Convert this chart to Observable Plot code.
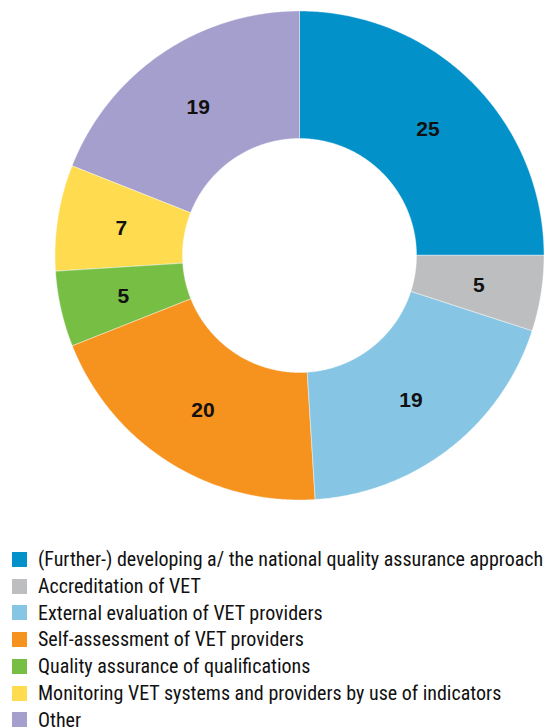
<!DOCTYPE html>
<html>
<head>
<meta charset="utf-8">
<script src="https://cdn.jsdelivr.net/npm/d3@7"></script>
<script src="https://cdn.jsdelivr.net/npm/@observablehq/plot@0.6"></script>
<style>
  html, body { margin: 0; padding: 0; background: #fff; }
  #chart svg { display: block; }
  .legend { position: relative; width: 547px; font-family: "Liberation Sans Narrow", "Arial Narrow", "Roboto Condensed", sans-serif; font-size: 20px; color: #111; overflow: hidden; }
  .row { position: absolute; left: 0; height: 26px; }
  .sw { position: absolute; left: 12px; top: 0; width: 15px; height: 15px; }
  .lb { position: absolute; left: 38px; top: -0.7px; white-space: nowrap; line-height: 16px; }
</style>
</head>
<body>
<div id="chart"></div>
<div class="legend" id="legend"></div>
<script>
const categories = [
  "(Further-) developing a/ the national quality assurance approach",
  "Accreditation of VET",
  "External evaluation of VET providers",
  "Self-assessment of VET providers",
  "Quality assurance of qualifications",
  "Monitoring VET systems and providers by use of indicators",
  "Other"
];
const values = [25, 5, 19, 20, 5, 7, 19];
const colors = ["#0391c9", "#bdbec0", "#86c6e4", "#f6921e", "#77bf44", "#fedb4f", "#a59fce"];

const W = 547, H = 540;
const cx = 299.5, cy = 255.5;
const rOuter = 244.5, rInner = 117;
const rLabel = 181;

const pie = d3.pie().sort(null).value(d => d)(values);

// Arc outline points for each slice (inner/outer edges along the angle)
const arcPts = [];
pie.forEach((p, i) => {
  const n = Math.max(2, Math.ceil((p.endAngle - p.startAngle) / (Math.PI / 360)));
  for (let k = 0; k <= n; k++) {
    const a = p.startAngle + (p.endAngle - p.startAngle) * k / n;
    arcPts.push({
      cat: categories[i],
      x1: rInner * Math.sin(a), y1: rInner * Math.cos(a),
      x2: rOuter * Math.sin(a), y2: rOuter * Math.cos(a)
    });
  }
});
const labels = pie.map((p, i) => {
  const a = (p.startAngle + p.endAngle) / 2;
  return { text: String(values[i]), x: rLabel * Math.sin(a), y: rLabel * Math.cos(a) };
});

const chart = Plot.plot({
  width: W, height: H,
  margin: 0,
  x: { domain: [-cx, W - cx], axis: null },
  y: { domain: [-(H - cy), cy], axis: null },
  color: { domain: categories, range: colors },
  style: { background: "white" },
  marks: [
    Plot.area(arcPts, { x1: "x1", y1: "y1", x2: "x2", y2: "y2", z: "cat", fill: "cat", stroke: "white", strokeWidth: 0.4, curve: "linear" }),
    Plot.text(labels, { x: "x", y: "y", dy: 1, text: "text", fontWeight: "bold", fontSize: 21, fill: "#111",
      fontFamily: "'Liberation Sans Narrow', 'Arial Narrow', sans-serif" })
  ]
});
document.getElementById("chart").appendChild(chart);

const legend = document.getElementById("legend");
legend.style.height = (728 - H) + "px";
categories.forEach((c, i) => {
  const row = document.createElement("div");
  row.className = "row";
  row.style.top = (12 + i * 26.7) + "px";
  const sw = document.createElement("div");
  sw.className = "sw";
  sw.style.background = colors[i];
  const lb = document.createElement("div");
  lb.className = "lb";
  lb.textContent = c;
  row.appendChild(sw); row.appendChild(lb);
  legend.appendChild(row);
});
</script>
</body>
</html>
